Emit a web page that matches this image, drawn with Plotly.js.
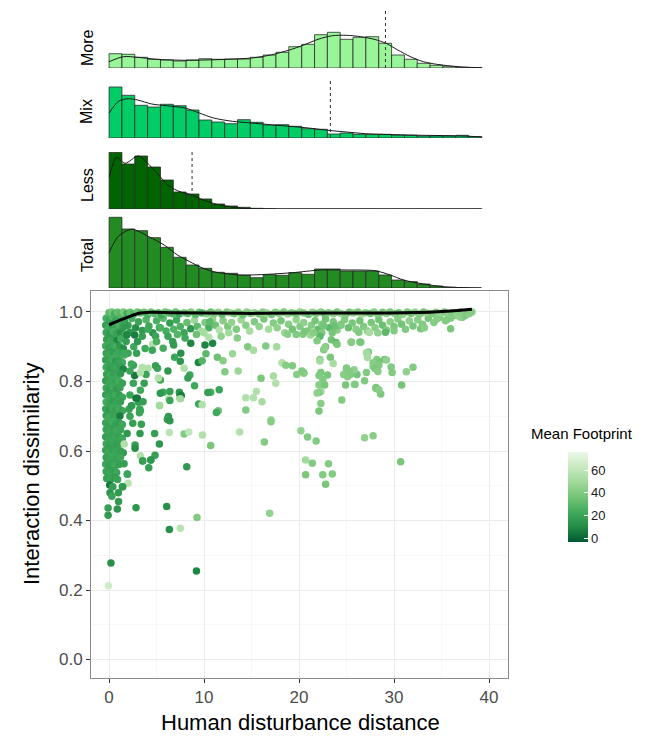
<!DOCTYPE html>
<html>
<head>
<meta charset="utf-8">
<script src="https://cdn.plot.ly/plotly-3.0.1.min.js"></script>
<style>html,body{margin:0;padding:0;background:#fff;}#chart{width:651px;height:739px;}</style>
</head>
<body>
<div id="chart"></div>
<script>
// ---------------- DATA ----------------
// Histogram bins (centres, width) shared by the four marginal panels
const binCenters = [0.68, 2.03, 3.38, 4.74, 6.09, 7.44, 8.79, 10.14, 11.49, 12.85,
                    14.20, 15.55, 16.90, 18.25, 19.60, 20.96, 22.31, 23.66, 25.01, 26.36,
                    27.71, 29.07, 30.42, 31.77, 33.12, 34.47, 35.82, 37.18, 38.53];
const binWidth = 1.352;
const panelNames = ["More", "Mix", "Less", "Total"];
const moreCounts  = [14.3,13.7,10.7,8.7,8,7,8,9.3,8.7,9, 9,10.7,13,15.7,21.3,23.7,33.3,35.7,28.7,30.7, 31.3,24.7,13,8.7,4.7,2.7,1.3,0.7,0.3];
const mixCounts   = [51,42.7,32.7,31,33.7,32.3,28,18,16,14.3, 18.3,15.7,13,13.3,11.7,9.3,8.7,4,5,3.7, 3.7,3.7,3,2.7,2,2,2,2.7,1.3];
const lessCounts  = [56.7,45,53,42,29,17,15,10,5,3, 1.7,0.7,0.3,0,0,0,0,0,0,0, 0,0,0,0,0,0,0,0,0];
const totalCounts = [70.7,59,57.3,50.3,40.7,30.7,23,19.7,15.7,14.7, 12.7,10.3,13.3,12.7,15.3,13.7,19,19,17,17, 17,13,8,6.3,4,2,0.7,0.3,0];

// density curves (same count scale)
const moreDensX  = [0,1.5,3,5,8,10,12.5,15,17,19,20.5,22,23.5,25,26.5,28,29.2,30.4,31.8,33.1,34.5,36,37.5,39.3];
const moreDensY  = [6.3,11.3,10.7,8.7,7.7,8,8.7,10,13,18,23,28.7,32.3,32.7,31.3,28.5,24.5,18,11,6.3,3.7,2,0.8,0.3];
const mixDensX   = [0,1,2,3,4.5,6,8,9.5,11,13,15,17,19,21,23,25,27,30,33,36,38,39.3];
const mixDensY   = [25,36.7,39.3,38,34,32.3,30,25,20,16.7,15,13.3,11.7,10,7.7,6,4.3,3.3,2.7,2.3,1.7,1];
const lessDensX  = [0.03,0.8,1.68,3.09,4.32,5.37,6.42,7.47,8.7,9.93,11.33,12.74,14.14,16.95,20,25,30,35,39.3];
const lessDensY  = [32.3,51.7,45.7,53,43.3,32.3,22.3,17.3,14,9,4.7,2.3,0.7,0,0,0,0,0,0];
const totalDensX = [0,1,2.4,4.2,5.8,7.2,8.5,9.9,11.3,13.9,16.7,19.3,22.3,25.1,28.0,29.6,31.0,33.1,35.2,37.3,39.2];
const totalDensY = [35.3,52,58.7,51.3,43,33,26.3,19.7,15.7,13,13.7,15.3,18,18,17.3,13,8,4,1.3,0.3,0];

// median (dashed) lines
const moreMedian = 29.1, mixMedian = 23.3, lessMedian = 8.74;

// Scatter: left dense column near x = 0
const columnX = [
 -0.3,0.05,0.4,0.75,1.1,1.5,
 -0.35,0.0,0.35,0.7,1.05,1.45,
 -0.3,0.1,0.45,0.8,1.2,1.7,
 -0.25,0.15,0.5,0.85,1.25,1.8,
 -0.35,0.0,0.4,0.75,1.1,1.5,
 -0.3,0.05,0.45,0.8,1.2,1.6,
 -0.35,0.0,0.35,0.7,1.05,1.4,
 -0.3,0.1,0.45,0.8,1.15,1.5,
 -0.25,0.15,0.5,0.85,1.2,
 -0.35,0.0,0.35,0.7,1.05,1.4,
 -0.3,0.05,0.45,0.8,1.15,
 -0.35,0.0,0.35,0.7,1.05,1.4,
 -0.3,0.1,0.45,0.8,1.2,
 -0.35,0.0,0.35,0.7,1.05,1.4,
 -0.3,0.05,0.45,0.8,1.15,
 -0.35,0.0,0.35,0.7,1.05,1.4,
 -0.3,0.1,0.45,0.8,1.2,
 -0.35,0.0,0.35,0.7,1.05,1.4,
 -0.3,0.05,0.45,0.8,1.15,
 -0.35,0.0,0.35,0.7,1.05,1.5,
 -0.3,0.1,0.45,0.8,1.2,
 -0.35,0.0,0.35,0.7,1.05,
 -0.3,0.1,0.45,0.8,
 -0.25,0.15,0.5,0.9];
const columnY = [
 0.982,0.978,0.985,0.976,0.983,0.979,
 0.962,0.957,0.965,0.958,0.963,0.955,
 0.941,0.937,0.944,0.938,0.942,0.936,
 0.921,0.917,0.924,0.918,0.922,0.915,
 0.902,0.897,0.904,0.898,0.901,0.895,
 0.881,0.877,0.884,0.878,0.882,0.876,
 0.862,0.857,0.865,0.858,0.861,0.855,
 0.841,0.837,0.844,0.838,0.842,0.836,
 0.821,0.817,0.824,0.818,0.822,
 0.802,0.797,0.804,0.798,0.801,0.795,
 0.781,0.777,0.784,0.778,0.782,
 0.762,0.757,0.765,0.758,0.761,0.755,
 0.741,0.737,0.744,0.738,0.742,
 0.721,0.717,0.724,0.718,0.722,0.716,
 0.702,0.697,0.704,0.698,0.701,
 0.681,0.677,0.684,0.678,0.682,0.676,
 0.662,0.657,0.665,0.658,0.661,
 0.641,0.637,0.644,0.638,0.642,0.636,
 0.621,0.617,0.624,0.618,0.622,
 0.602,0.597,0.604,0.598,0.601,0.595,
 0.581,0.577,0.584,0.578,0.582,
 0.562,0.557,0.565,0.558,0.561,
 0.541,0.537,0.544,0.538,
 0.521,0.517,0.524,0.518];
const columnFP = [
 24,20,28,18,22,30,
 18,22,15,20,26,17,
 20,16,24,19,12,22,
 17,21,19,8,23,18,
 22,18,20,25,16,12,
 19,21,17,22,20,26,
 18,20,23,15,19,21,
 21,17,19,22,18,8,
 19,22,18,20,16,
 17,20,21,18,23,19,
 20,18,22,16,19,
 18,21,19,23,17,20,
 22,19,17,20,18,
 19,16,21,18,22,20,
 18,22,19,21,6,
 20,18,23,19,17,21,
 19,21,18,22,20,
 17,20,19,21,18,22,
 21,18,20,17,19,
 19,22,18,20,21,17,
 18,20,22,19,21,
 20,17,19,22,18,
 19,21,18,20,
 18,20,17,19];

// Scatter: top band (y close to 1)
const topX = [
 0.0,0.3,0.6,0.9,1.2,1.5,1.9,2.2,2.6,3.0,
 3.3,3.7,4.1,4.4,4.8,5.2,5.5,5.9,6.3,6.7,
 7.0,7.4,7.9,8.3,8.6,9.1,9.5,9.8,10.3,10.7,
 11.1,11.5,11.9,12.4,12.8,13.2,13.6,14.1,14.5,14.9,
 15.3,15.8,16.2,16.6,17.1,17.5,17.9,18.4,18.8,19.2,
 19.7,20.1,20.5,21.0,21.4,21.8,22.3,22.7,23.1,23.6,
 24.0,24.4,24.9,25.3,25.7,26.2,26.6,27.0,27.5,27.9,
 28.3,28.8,29.2,29.6,30.1,30.5,30.9,31.4,31.8,32.2,
 32.7,33.1,33.5,34.0,34.4,34.8,35.3,35.7,36.1,36.6,
 37.0,37.4,37.8,38.2];
const topY = [
 0.998,1.0,0.995,0.999,0.993,1.0,0.996,0.999,0.994,1.0,
 0.997,0.999,0.993,1.0,0.996,0.998,0.992,1.0,0.997,0.995,
 1.0,0.994,0.998,0.996,1.0,0.993,0.999,0.997,0.995,1.0,
 0.996,0.999,0.993,1.0,0.997,0.995,0.999,0.992,1.0,0.996,
 0.998,0.994,1.0,0.997,0.993,0.999,0.996,1.0,0.994,0.998,
 0.995,1.0,0.997,0.993,0.999,0.996,1.0,0.994,0.998,0.995,
 1.0,0.996,0.993,0.999,0.997,1.0,0.994,0.998,0.996,1.0,
 0.993,0.999,0.996,1.0,0.995,0.998,0.993,1.0,0.996,0.999,
 0.994,1.0,0.997,0.995,0.999,0.996,1.0,0.993,0.998,0.996,
 1.0,0.997,0.999,1.0];
const topFP = [
 30,36,24,33,28,38,22,34,26,36,
 30,35,25,38,28,33,20,36,30,27,
 34,22,38,29,40,31,36,27,42,35,
 38,44,33,40,46,37,41,35,43,39,
 45,38,42,47,36,41,44,39,48,40,
 37,43,40,35,45,39,42,33,41,44,
 38,46,40,36,43,39,47,41,35,42,
 40,37,44,39,42,36,45,40,38,43,
 41,37,44,39,42,46,38,43,40,45,
 41,44,39,42];

// Scatter: upper spread (0.93 - 0.99)
const upperX = [
 1.6,2.0,2.4,2.8,3.1,3.5,3.9,4.2,4.6,5.0,
 5.3,5.7,6.0,6.4,6.8,7.1,7.5,7.9,8.2,8.6,
 9.0,9.3,9.7,10.1,10.5,10.9,11.2,11.6,12.0,12.5,
 12.9,13.4,13.9,14.4,14.8,15.3,15.8,16.3,16.8,17.3,
 17.7,18.1,18.5,18.9,19.3,19.7,20.1,20.5,20.9,21.3,
 21.7,22.0,22.4,22.8,23.2,23.6,24.0,24.4,24.8,25.2,
 25.6,26.0,26.4,26.8,27.2,27.6,28.0,28.4,28.8,29.2,
 29.6,30.0,30.4,30.8,31.2,31.6,32.0,32.5,33.0,33.6,
 34.2,34.8,35.4,36.0,36.6,37.2,1.2,0.9,1.5,2.2];
const upperY = [
 0.975,0.962,0.981,0.955,0.972,0.947,0.978,0.96,0.94,0.975,
 0.955,0.982,0.945,0.968,0.95,0.977,0.958,0.94,0.97,0.952,
 0.976,0.958,0.945,0.97,0.955,0.98,0.962,0.948,0.975,0.958,
 0.97,0.95,0.978,0.962,0.945,0.972,0.958,0.98,0.95,0.968,
 0.955,0.975,0.94,0.965,0.95,0.978,0.958,0.97,0.945,0.962,
 0.975,0.95,0.965,0.98,0.955,0.972,0.948,0.962,0.978,0.955,
 0.968,0.95,0.975,0.958,0.945,0.97,0.955,0.978,0.962,0.948,
 0.972,0.958,0.98,0.965,0.95,0.975,0.96,0.978,0.965,0.982,
 0.97,0.985,0.975,0.983,0.99,0.985,0.985,0.978,0.958,0.942];
const upperFP = [
 22,18,25,12,20,16,28,22,14,25,
 19,30,24,17,28,22,26,20,33,15,
 48,30,52,40,25,45,35,55,42,38,
 45,40,48,43,52,40,45,38,50,41,
 44,38,47,42,36,45,40,44,38,42,
 37,32,40,35,30,38,42,36,40,34,
 38,42,36,40,44,38,42,36,34,40,
 43,38,42,36,40,44,38,42,40,37,
 41,39,43,40,42,38,26,20,18,15];

// Scatter: points between 0.84 and 0.96
const spreadX = [
 1.86,2.7,3.5,4.1,4.9,5.4,2.0,2.9,2.6,4.6,
 4.55,5.7,6.7,6.8,7.55,8.6,10.1,10.9,10.5,10.0,
 10.6,7.5,1.7,1.6,3.0,3.8,5.0,6.2,7.2,8.0,
 9.2,11.8,12.6,13.5,14.6,15.2,16.5,17.65,18.8,19.7,
 21.2,20.4,20.6,21.5,22.4,22.6,23.5,23.8,24.4,23.4,
 23.9,22.6,22.8,22.2,22.2,21.9,22.7,24.0,25.5,26.5,
 25.5,26.4,27.3,27.2,28.2,28.4,27.8,29.0,29.7,27.4,
 26.3,28.3,29.1,30.0,32.8,33.2,35.5,35.96,34.5,37.0,
 37.5,37.9,29.2,27.1,27.2,23.3,22.2,23.6,18.2,18.6];
const spreadY = [
 0.934,0.934,0.93,0.95,0.93,0.955,0.881,0.881,0.9,0.907,
 0.89,0.896,0.915,0.905,0.881,0.91,0.905,0.91,0.927,0.94,
 0.972,0.858,0.96,0.975,0.915,0.895,0.915,0.93,0.935,0.925,
 0.935,0.93,0.94,0.925,0.9,0.89,0.902,0.9,0.936,0.935,
 0.934,0.936,0.944,0.94,0.94,0.96,0.94,0.96,0.965,0.92,
 0.912,0.891,0.9,0.863,0.93,0.917,0.897,0.907,0.913,0.913,
 0.914,0.914,0.885,0.876,0.863,0.857,0.854,0.863,0.842,0.941,
 0.942,0.94,0.942,0.946,0.952,0.955,0.976,0.952,0.98,0.985,
 0.99,0.995,0.862,0.883,0.869,0.87,0.859,0.852,0.854,0.847];
const spreadFP = [
 8,6,18,22,20,26,20,18,22,55,
 20,24,18,16,12,8,8,8,55,52,
 30,14,15,18,15,22,25,20,28,22,
 35,45,50,42,40,52,40,50,42,40,
 48,40,38,42,40,36,38,34,40,36,
 30,40,38,42,30,40,44,38,36,40,
 42,38,40,50,40,38,42,36,40,52,
 40,44,30,40,38,42,40,38,42,44,
 40,42,44,50,52,38,50,52,55,42];

// Scatter: middle scattered points (0.68 - 0.88)
const midX = [
 12.2,16.0,17.3,17.55,19.3,19.76,20.5,22.3,22.5,22.1,
 22.7,22.3,22.1,22.3,22.1,24.5,25.1,25.0,25.4,26.1,
 25.8,26.9,27.8,28.2,28.4,28.1,28.6,29.8,30.8,31.3,
 32.0,20.5,22.1,23.0,25.0,25.8,25.3,28.0,28.3,27.1,
 25.9,24.7,24.9,21.9,20.3,28.1,28.4,13.0,14.4,15.2,
 16.1,15.5,11.5,14.4,17.05,9.4,8.5,8.3,9.0,10.7,
 11.6,7.4,7.5,6.4,5.7,6.3,5.3,6.9,5.1,4.9,
 6.2,7.9,5.4,5.2,4.1,3.9,2.7,2.56,2.35,2.56,
 3.7,3.3,2.2,2.84,3.1,3.3,2.4,6.25,6.2,3.2,
 2.1,3.3,3.5,2.2,1.6,12.0,13.6,10.2,11.4,9.8];
const midY = [
 0.828,0.809,0.816,0.795,0.845,0.82,0.826,0.826,0.806,0.79,
 0.79,0.771,0.768,0.737,0.715,0.747,0.814,0.836,0.82,0.82,
 0.792,0.802,0.843,0.835,0.847,0.78,0.764,0.826,0.79,0.828,
 0.841,0.824,0.817,0.819,0.839,0.834,0.829,0.838,0.829,0.826,
 0.791,0.82,0.79,0.767,0.83,0.783,0.776,0.88,0.753,0.753,
 0.742,0.771,0.716,0.718,0.689,0.855,0.819,0.81,0.788,0.769,
 0.776,0.769,0.752,0.771,0.769,0.75,0.732,0.87,0.838,0.845,
 0.83,0.838,0.804,0.81,0.838,0.82,0.817,0.847,0.85,0.795,
 0.795,0.775,0.761,0.752,0.74,0.716,0.73,0.699,0.69,0.71,
 0.72,0.825,0.84,0.83,0.88,0.86,0.83,0.88,0.87,0.86];
const midFP = [
 40,38,52,55,40,42,40,38,40,42,
 38,50,40,42,38,40,42,38,40,36,
 52,40,42,38,40,42,38,40,36,44,
 40,42,40,38,40,44,40,38,42,40,
 40,42,38,44,40,38,42,48,55,55,
 52,55,35,40,45,8,20,18,22,25,
 20,15,20,18,22,55,55,20,20,18,
 15,55,22,55,55,20,5,18,22,20,
 18,22,20,5,18,20,22,15,18,20,
 18,55,55,20,22,42,48,30,35,28];

// Scatter: lower scattered points (< 0.76)
const lowX = [
 6.35,7.9,8.4,9.84,10.7,13.75,16.35,17.05,20.2,20.9,
 21.8,26.9,27.8,20.7,21.4,23.1,20.7,22.5,23.5,22.8,
 30.7,16.9,2.84,6.07,9.26,6.35,7.5,9.2,0.2,-0.07,
 3.26,4.8,5.3,2.74,2.74,4.84,4.4,3.53,4.18,8.18,
 3.3,2.0,1.93,1.44,0.98,0.1,0.07,-0.1,-0.1,0.87,
 6.14,6.4,5.33,9.44,9.8,11.3,3.4,3.23,2.35,2.5,
 2.98,3.58,5.4,6.4,7.44,7.6,7.5,10.4,1.58,1.93,
 3.54,4.39,1.4,0.4,1.0,0.3,1.6,1.2,1.9,2.2];
const lowY = [
 0.653,0.649,0.655,0.646,0.616,0.655,0.626,0.684,0.658,0.64,
 0.629,0.638,0.644,0.574,0.565,0.563,0.532,0.532,0.534,0.504,
 0.569,0.421,0.437,0.44,0.409,0.374,0.378,0.255,0.278,0.212,
 0.65,0.65,0.62,0.617,0.608,0.588,0.574,0.571,0.552,0.555,
 0.586,0.507,0.533,0.497,0.48,0.48,0.502,0.415,0.436,0.433,
 0.691,0.687,0.73,0.735,0.733,0.711,0.677,0.721,0.73,0.68,
 0.752,0.742,0.766,0.745,0.764,0.76,0.75,0.768,0.563,0.534,
 0.572,0.574,0.497,0.497,0.455,0.47,0.62,0.6,0.65,0.7];
const lowFP = [
 58,40,60,55,38,55,40,42,45,40,
 40,45,42,50,40,40,38,40,40,38,
 38,45,15,12,40,12,58,8,12,65,
 15,18,14,18,12,18,16,14,18,16,
 55,58,18,15,16,14,5,16,18,14,
 18,15,50,20,55,22,18,20,16,18,
 5,18,15,20,14,6,50,18,18,20,
 18,15,16,18,16,20,55,18,15,20];

// Smooth fit line
const fitX = [0, 1.5, 3.3, 4.3, 6.8, 10.3, 15, 20.1, 27.1, 34.2, 38.2];
const fitY = [0.963, 0.98, 0.997, 0.999, 0.998, 0.997, 0.996, 0.997, 0.997, 1.0, 1.008];

const yTicks = [0, 0.2, 0.4, 0.6, 0.8, 1.0];
const yTickText = ["0.0", "0.2", "0.4", "0.6", "0.8", "1.0"];
const xTicks = [0, 10, 20, 30, 40];
const cbTicks = [0, 20, 40, 60];

// ---------------- LAYOUT HELPERS ----------------
const W = 651, H = 739;
const px2x = p => p / W;
const px2y = p => 1 - p / H;
const FONT = "'Liberation Sans', Arial, Helvetica, sans-serif";
const xDomain = [px2x(91), px2x(508)];
const xRange = [-1.9, 42.0];

const greens = [[0,'#005a32'],[1/6,'#238b45'],[2/6,'#41ab5d'],[3/6,'#74c476'],[4/6,'#a1d99b'],[5/6,'#c7e9c0'],[1,'#edf8e9']];

const allX = [].concat(columnX, upperX, topX, spreadX, midX, lowX);
const allY = [].concat(columnY, upperY, topY, spreadY, midY, lowY);
const allFP = [].concat(columnFP, upperFP, topFP, spreadFP, midFP, lowFP);

const traces = [];
traces.push({
  type: 'scatter', mode: 'markers', x: allX, y: allY, xaxis: 'x', yaxis: 'y',
  marker: {size: 7.5, color: allFP, colorscale: greens, cmin: -3.5, cmax: 75.9,
    line: {width: 0},
    colorbar: {x: px2x(568), xanchor: 'left', xpad: 0, ypad: 0, y: px2y(497), yanchor: 'middle',
      len: 90, lenmode: 'pixels', thickness: 20, thicknessmode: 'pixels', outlinewidth: 0,
      tickvals: cbTicks, ticks: 'inside', ticklen: 4, tickcolor: '#ffffff', tickwidth: 1,
      tickfont: {family: FONT, size: 13, color: '#1a1a1a'}}},
  hoverinfo: 'skip', showlegend: false
});
traces.push({type: 'scatter', mode: 'lines', x: fitX, y: fitY, xaxis: 'x', yaxis: 'y',
  line: {color: '#000000', width: 3, shape: 'spline', smoothing: 1}, showlegend: false, hoverinfo: 'skip'});

const panels = [
  {counts: moreCounts, dx: moreDensX, dy: moreDensY, color: '#98F598', ax: 2, median: moreMedian},
  {counts: mixCounts, dx: mixDensX, dy: mixDensY, color: '#00CD66', ax: 3, median: mixMedian},
  {counts: lessCounts, dx: lessDensX, dy: lessDensY, color: '#006400', ax: 4, median: lessMedian},
  {counts: totalCounts, dx: totalDensX, dy: totalDensY, color: '#228B22', ax: 5, median: null}
];
panels.forEach(p => {
  traces.push({type: 'bar', x: binCenters, y: p.counts, width: binWidth, xaxis: 'x' + p.ax, yaxis: 'y' + p.ax,
    marker: {color: p.color, line: {color: '#2b2b2b', width: 0.8}}, showlegend: false, hoverinfo: 'skip'});
  traces.push({type: 'scatter', mode: 'lines', x: p.dx, y: p.dy, xaxis: 'x' + p.ax, yaxis: 'y' + p.ax,
    line: {color: '#1a1a1a', width: 1, shape: 'spline', smoothing: 0.8}, showlegend: false, hoverinfo: 'skip'});
});

// panel vertical geometry in pixels [top, baseline]
const panelPx = {2: [8, 68], 3: [81, 138], 4: [152, 209], 5: [213, 288]};

const layout = {
  width: W, height: H, margin: {l: 0, r: 0, t: 0, b: 0},
  paper_bgcolor: '#ffffff', plot_bgcolor: 'rgba(0,0,0,0)', showlegend: false, bargap: 0,
  font: {family: FONT},
  xaxis: {domain: xDomain, range: xRange, anchor: 'y', tickvals: xTicks, ticks: 'outside', ticklen: 4,
    tickcolor: '#333333', tickfont: {family: FONT, size: 17, color: '#4d4d4d'},
    showgrid: true, gridcolor: '#ebebeb', gridwidth: 1, zeroline: false,
    minor: {dtick: 5, tick0: 0, showgrid: true, gridcolor: '#f4f4f4', gridwidth: 0.6},
    showline: true, mirror: true, linecolor: '#8a8a8a', linewidth: 1},
  yaxis: {domain: [px2y(678), px2y(291)], range: [-0.0532, 1.0604], anchor: 'x',
    tickvals: yTicks, ticktext: yTickText, ticks: 'outside', ticklen: 4, tickcolor: '#333333',
    tickfont: {family: FONT, size: 17, color: '#4d4d4d'},
    showgrid: true, gridcolor: '#ebebeb', gridwidth: 1, zeroline: false,
    minor: {dtick: 0.1, tick0: 0, showgrid: true, gridcolor: '#f4f4f4', gridwidth: 0.6},
    showline: true, mirror: true, linecolor: '#8a8a8a', linewidth: 1},
  shapes: [], annotations: []
};
[2, 3, 4, 5].forEach(k => {
  const [top, base] = panelPx[k];
  layout['xaxis' + k] = {domain: xDomain, range: xRange, anchor: 'y' + k, visible: false, showgrid: false, zeroline: false};
  layout['yaxis' + k] = {domain: [px2y(base), px2y(top)], range: [0, base - top], anchor: 'x' + k,
    visible: false, showgrid: false, zeroline: false};
});
panels.forEach(p => {
  if (p.median !== null) {
    layout.shapes.push({type: 'line', xref: 'x' + p.ax, yref: 'y' + p.ax + ' domain', x0: p.median, x1: p.median,
      y0: 0, y1: 1, line: {color: '#333333', width: 1, dash: '3px,3px'}});
  }
});

const labelY = [48, 112, 185, 255];
panelNames.forEach((n, i) => {
  layout.annotations.push({text: n, xref: 'paper', yref: 'paper', x: px2x(87), y: px2y(labelY[i]),
    xanchor: 'center', yanchor: 'middle',
    textangle: -90, showarrow: false, font: {family: FONT, size: 16, color: '#000000'}});
});
layout.annotations.push({text: 'Interaction dissimilarity', xref: 'paper', yref: 'paper', x: px2x(31), y: px2y(474),
  xanchor: 'center', yanchor: 'middle',
  textangle: -90, showarrow: false, font: {family: FONT, size: 22, color: '#000000'}});
layout.annotations.push({text: 'Human disturbance distance', xref: 'paper', yref: 'paper', x: px2x(300), y: px2y(722),
  xanchor: 'center', yanchor: 'middle',
  showarrow: false, font: {family: FONT, size: 22, color: '#000000'}});
layout.annotations.push({text: 'Mean Footprint', xref: 'paper', yref: 'paper', x: px2x(529), xanchor: 'left', y: px2y(433),
  yanchor: 'middle',
  showarrow: false, font: {family: FONT, size: 15, color: '#000000'}});

Plotly.newPlot('chart', traces, layout, {staticPlot: true, displayModeBar: false});
</script>
</body>
</html>
